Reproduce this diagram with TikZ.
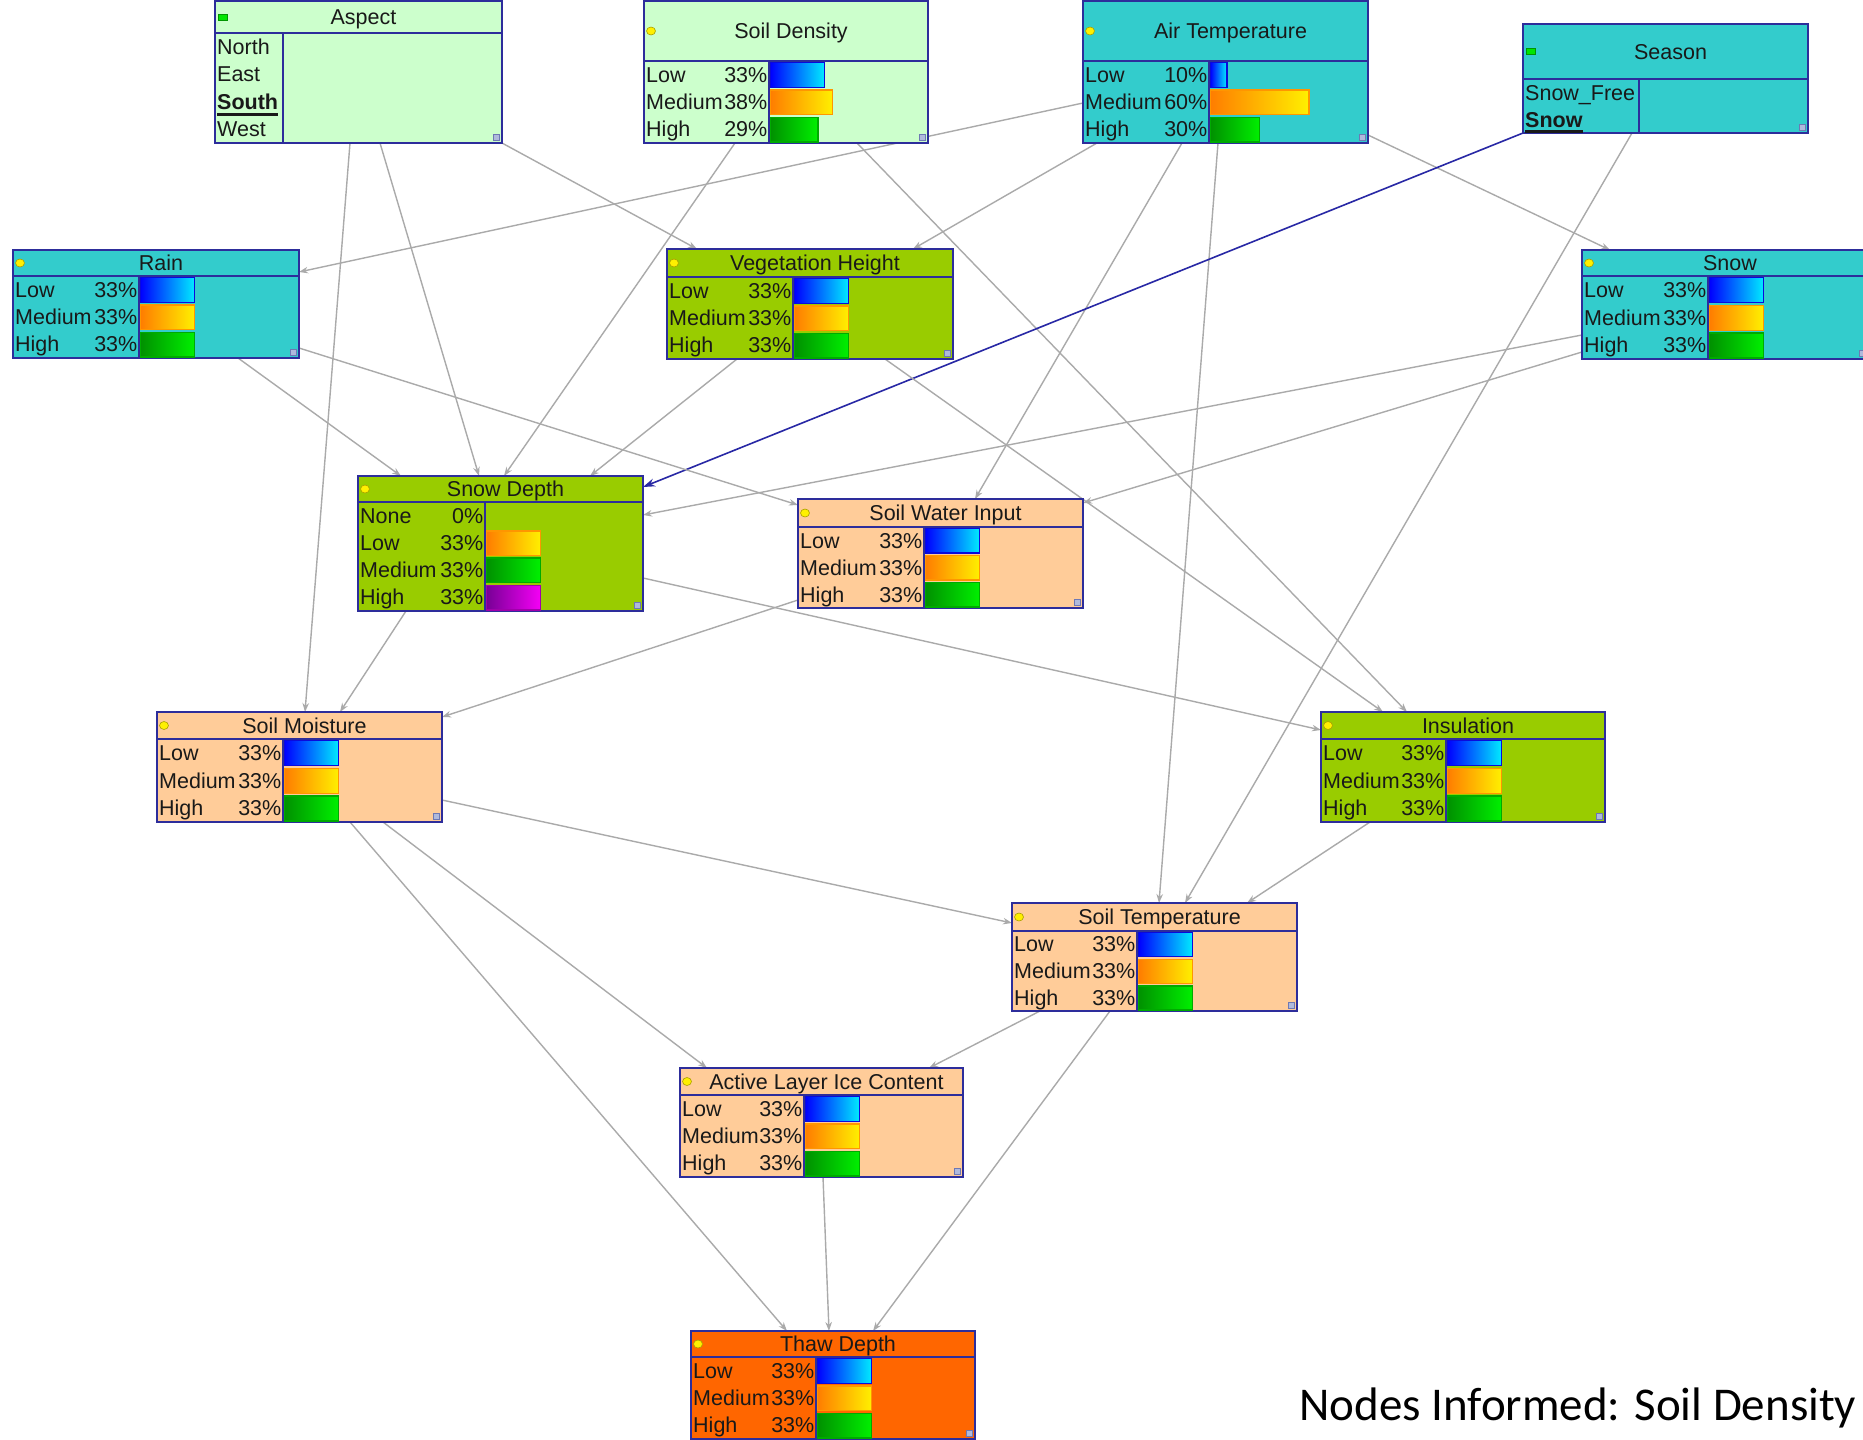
\documentclass[tikz,border=0pt]{standalone}
\usepackage{fontspec}
\setmainfont{Liberation Sans}
\newfontfamily\calibfont{Carlito}
\usetikzlibrary{calc,arrows.meta}
\pgfdeclarelayer{back}
\pgfdeclarelayer{links}
\pgfsetlayers{back,links,main}

\definecolor{cLG}{RGB}{204,255,204}
\definecolor{cTeal}{RGB}{51,204,204}
\definecolor{cOlive}{RGB}{153,204,0}
\definecolor{cPeach}{RGB}{255,204,153}
\definecolor{cOrange}{RGB}{255,102,0}
\definecolor{cBorder}{RGB}{45,45,155}
\definecolor{cLink}{RGB}{170,170,170}
\definecolor{cBlueLink}{RGB}{40,40,165}
\definecolor{cText}{RGB}{25,25,25}
\definecolor{gLowA}{RGB}{0,0,255}
\definecolor{gLowB}{RGB}{0,235,255}
\definecolor{gLowD}{RGB}{10,10,220}
\definecolor{gMedA}{RGB}{255,125,0}
\definecolor{gMedB}{RGB}{255,240,0}
\definecolor{gMedD}{RGB}{255,150,0}
\definecolor{gHiA}{RGB}{0,145,0}
\definecolor{gHiB}{RGB}{0,240,0}
\definecolor{gHiD}{RGB}{0,170,0}
\definecolor{gPurA}{RGB}{120,0,150}
\definecolor{gPurB}{RGB}{245,0,245}
\definecolor{gPurD}{RGB}{160,0,170}
\definecolor{cHandle}{RGB}{175,185,220}
\definecolor{cHandleD}{RGB}{110,120,180}
\definecolor{cMarkY}{RGB}{255,240,0}
\definecolor{cMarkYD}{RGB}{170,160,0}
\definecolor{cMarkG}{RGB}{0,230,0}
\definecolor{cMarkGD}{RGB}{0,150,0}

\tikzset{
  bnrect/.style={rectangle, draw=cBorder, line width=2pt, inner sep=0pt, outer sep=0pt},
  bnline/.style={draw=cBorder, line width=1.6pt},
  titletext/.style={inner sep=0pt, text=cText, font=\fontsize{21.5}{25}\selectfont},
  statetext/.style={inner sep=0pt, text=cText, font=\fontsize{21.5}{25}\selectfont},
  bLow/.style={left color=gLowA, right color=gLowB, draw=gLowD, line width=1.3pt},
  bMed/.style={left color=gMedA, right color=gMedB, draw=gMedD, line width=1.3pt},
  bHigh/.style={left color=gHiA, right color=gHiB, draw=gHiD, line width=1.3pt},
  bPur/.style={left color=gPurA, right color=gPurB, draw=gPurD, line width=1.3pt},
  bnhandle/.style={fill=cHandle, draw=cHandleD, line width=0.6pt},
  markY/.style={fill=cMarkY, draw=cMarkYD, line width=0.6pt},
  markG/.style={fill=cMarkG, draw=cMarkGD, line width=0.6pt},
  bnlink/.style={draw=cLink, line width=1.4pt, -{Stealth[length=9pt,width=6.5pt]}},
  bnblue/.style={draw=cBlueLink, line width=1.6pt, -{Stealth[length=12pt,width=8pt]}},
}

\newcommand\bnget[1]{%
  \edef\bgX{\csname bnX#1\endcsname}%
  \edef\bgY{\csname bnY#1\endcsname}%
  \edef\bgT{\csname bnT#1\endcsname}%
  \edef\bgD{\csname bnD#1\endcsname}%
  \edef\bgB{\csname bnB#1\endcsname}%
  \edef\bgR{\csname bnR#1\endcsname}}

% name, x1, y1, x2, y2, title bottom, divider, fill, title
\newcommand\bnbox[9]{%
  \expandafter\gdef\csname bnX#1\endcsname{#2}%
  \expandafter\gdef\csname bnY#1\endcsname{#3}%
  \expandafter\gdef\csname bnR#1\endcsname{#4}%
  \expandafter\gdef\csname bnB#1\endcsname{#5}%
  \expandafter\gdef\csname bnT#1\endcsname{#6}%
  \expandafter\gdef\csname bnD#1\endcsname{#7}%
  \node[bnrect, fill=#8, minimum width={#4-#2}, minimum height={#5-#3}, anchor=north west] (#1) at (#2,-#3) {};
  \draw[bnline] (#2,-#6) -- (#4,-#6);
  \draw[bnline] (#7,-#6) -- (#7,-#5);
  \node[titletext, anchor=base] (#1-title) at ({(#2+#4)/2+5},{-(#3+#6)/2-7.5}) {#9};
  \draw[bnhandle] ({#4-9},{-#5+3}) rectangle ({#4-3},{-#5+9});
}

\newcommand\ymark[1]{\bnget{#1}%
  \draw[markY] ({\bgX+7},{-(\bgY+\bgT)/2}) ellipse [x radius=4.5pt, y radius=4pt];}
\newcommand\gmark[1]{\bnget{#1}%
  \draw[markG] ({\bgX+3},{-(\bgY+\bgT)/2-3}) rectangle ({\bgX+12},{-(\bgY+\bgT)/2+3});}

\newcommand\bnrows[3]{%
  \bnget{#1}%
  \pgfmathsetmacro\bnrh{(\bgB-\bgT)/#2}%
  \foreach \lab/\pct/\sty [count=\i] in {#3}{%
    \pgfmathsetmacro\yc{\bgT+(\i-0.5)*\bnrh}%
    \pgfmathsetmacro\yt{\bgT+(\i-1)*\bnrh+1.6}%
    \pgfmathsetmacro\yb{\bgT+\i*\bnrh-1}%
    \pgfmathsetmacro\bl{1.64*\pct}%
    \node[statetext, anchor=base west] (#1-s\i) at ({\bgX+2},{-\yc-7.5}) {\lab};
    \node[statetext, anchor=base east] (#1-p\i) at ({\bgD-1.5},{-\yc-7.5}) {\pct\%};
    \ifnum\pct>0
      \edef\bnbar{\noexpand\draw[\sty]}%
      \bnbar ({\bgD+1.5},-\yt) rectangle ({\bgD+1.5+\bl},-\yb);
    \fi
  }%
}

\newcommand\bnlabels[3]{%
  \bnget{#1}%
  \pgfmathsetmacro\bnrh{(\bgB-\bgT)/#2}%
  \foreach \lab [count=\i] in {#3}{%
    \pgfmathsetmacro\yc{\bgT+(\i-0.5)*\bnrh}%
    \node[statetext, anchor=base west] (#1-s\i) at ({\bgX+2},{-\yc-7.5}) {\lab};
  }%
}

\newcommand\bnul[1]{\setbox0\hbox{\bfseries #1}\rlap{\rule[-6.3pt]{\wd0}{3pt}}\box0}

\begin{document}
\begin{tikzpicture}[x=1pt, y=1pt]
\useasboundingbox (0,0) rectangle (1863,-1440);
\begin{pgfonlayer}{back}
  \fill[white] (0,0) rectangle (1863,-1440);
\end{pgfonlayer}

% ---- nodes ----
\bnbox{aspect}{215}{1}{502}{143}{33}{283}{cLG}{Aspect}
\gmark{aspect}
\bnlabels{aspect}{4}{North,East,\bnul{South},West}

\bnbox{soildens}{644}{1}{928}{143}{61}{769}{cLG}{Soil Density}
\ymark{soildens}
\bnrows{soildens}{3}{Low/33/bLow,Medium/38/bMed,High/29/bHigh}

\bnbox{airtemp}{1083}{1}{1368}{143}{61}{1209}{cTeal}{Air Temperature}
\ymark{airtemp}
\bnrows{airtemp}{3}{Low/10/bLow,Medium/60/bMed,High/30/bHigh}

\bnbox{season}{1523}{24}{1808}{133}{79}{1639}{cTeal}{Season}
\gmark{season}
\bnlabels{season}{2}{Snow\_Free,\bnul{Snow}}

\bnbox{rain}{13}{250}{299}{358}{276}{139}{cTeal}{Rain}
\ymark{rain}
\bnrows{rain}{3}{Low/33/bLow,Medium/33/bMed,High/33/bHigh}

\bnbox{veg}{667}{249}{953}{359}{277}{793}{cOlive}{Vegetation Height}
\ymark{veg}
\bnrows{veg}{3}{Low/33/bLow,Medium/33/bMed,High/33/bHigh}

\bnbox{snow}{1582}{250}{1868}{359}{276}{1708}{cTeal}{Snow}
\ymark{snow}
\bnrows{snow}{3}{Low/33/bLow,Medium/33/bMed,High/33/bHigh}

\bnbox{snowdepth}{358}{476}{643}{611}{502}{485}{cOlive}{Snow Depth}
\ymark{snowdepth}
\bnrows{snowdepth}{4}{None/0/bLow,Low/33/bMed,Medium/33/bHigh,High/33/bPur}

\bnbox{swi}{798}{499}{1083}{608}{527}{924}{cPeach}{Soil Water Input}
\ymark{swi}
\bnrows{swi}{3}{Low/33/bLow,Medium/33/bMed,High/33/bHigh}

\bnbox{soilmoist}{157}{712}{442}{822}{739}{283}{cPeach}{Soil Moisture}
\ymark{soilmoist}
\bnrows{soilmoist}{3}{Low/33/bLow,Medium/33/bMed,High/33/bHigh}

\bnbox{insul}{1321}{712}{1605}{822}{739}{1446}{cOlive}{Insulation}
\ymark{insul}
\bnrows{insul}{3}{Low/33/bLow,Medium/33/bMed,High/33/bHigh}

\bnbox{soiltemp}{1012}{903}{1297}{1011}{931}{1137}{cPeach}{Soil Temperature}
\ymark{soiltemp}
\bnrows{soiltemp}{3}{Low/33/bLow,Medium/33/bMed,High/33/bHigh}

\bnbox{alic}{680}{1068}{963}{1177}{1095}{804}{cPeach}{Active Layer Ice Content}
\ymark{alic}
\bnrows{alic}{3}{Low/33/bLow,Medium/33/bMed,High/33/bHigh}

\bnbox{thaw}{691}{1331}{975}{1439}{1357}{816}{cOrange}{Thaw Depth}
\ymark{thaw}
\bnrows{thaw}{3}{Low/33/bLow,Medium/33/bMed,High/33/bHigh}

\node[inner sep=0pt, anchor=base west, text=black, font=\calibfont\fontsize{47}{55}\selectfont] (info) at (1299,-1420) {Nodes Informed: Soil Density};

% ---- links ----
\begin{pgfonlayer}{links}
\draw[bnlink] ($(aspect.south west)+(135,0)$) -- ($(soilmoist.north west)+(148,0)$);
\draw[bnlink] ($(aspect.south west)+(165,0)$) -- ($(snowdepth.north west)+(121,0)$);
\draw[bnlink] (aspect.south east) -- ($(veg.north west)+(30,0)$);
\draw[bnlink] ($(soildens.south west)+(91,0)$) -- ($(snowdepth.north west)+(146,0)$);
\draw[bnlink] ($(soildens.south west)+(213,0)$) -- ($(insul.north west)+(86,0)$);
\draw[bnlink] ($(airtemp.north west)+(0,-102)$) -- ($(rain.north east)+(0,-22)$);
\draw[bnlink] ($(airtemp.south west)+(14,0)$) -- ($(veg.north west)+(246,0)$);
\draw[bnlink] ($(airtemp.south west)+(99,0)$) -- ($(swi.north west)+(177,0)$);
\draw[bnlink] ($(airtemp.south west)+(135,0)$) -- ($(soiltemp.north west)+(147,0)$);
\draw[bnlink] ($(airtemp.south east)+(0,8)$) -- ($(snow.north west)+(28,0)$);
\draw[bnblue] (season.south west) -- ($(snowdepth.north east)+(0,-11)$);
\draw[bnlink] ($(season.south west)+(109,0)$) -- ($(soiltemp.north west)+(173,0)$);
\draw[bnlink] ($(rain.south west)+(225,0)$) -- ($(snowdepth.north west)+(43,0)$);
\draw[bnlink] ($(rain.south east)+(0,10)$) -- ($(swi.north west)+(0,-6)$);
\draw[bnlink] ($(veg.south west)+(70,0)$) -- ($(snowdepth.north west)+(232,0)$);
\draw[bnlink] ($(veg.south west)+(218,0)$) -- ($(insul.north west)+(62,0)$);
\draw[bnlink] ($(snow.south west)+(0,24)$) -- ($(snowdepth.north east)+(0,-39)$);
\draw[bnlink] ($(snow.south west)+(0,7)$) -- ($(swi.north east)+(0,-4)$);
\draw[bnlink] ($(snowdepth.south west)+(48,0)$) -- ($(soilmoist.north west)+(183,0)$);
\draw[bnlink] ($(snowdepth.north east)+(0,-102)$) -- ($(insul.north west)+(0,-18)$);
\draw[bnlink] ($(swi.south west)+(0,8)$) -- ($(soilmoist.north east)+(0,-5)$);
\draw[bnlink] ($(soilmoist.south east)+(0,22)$) -- ($(soiltemp.north west)+(0,-20)$);
\draw[bnlink] ($(soilmoist.south west)+(226,0)$) -- ($(alic.north west)+(27,0)$);
\draw[bnlink] ($(soilmoist.south west)+(193,0)$) -- ($(thaw.north west)+(96,0)$);
\draw[bnlink] ($(insul.south west)+(49,0)$) -- ($(soiltemp.north west)+(235,0)$);
\draw[bnlink] ($(soiltemp.south west)+(28,0)$) -- ($(alic.north west)+(249,0)$);
\draw[bnlink] ($(soiltemp.south west)+(98,0)$) -- ($(thaw.north west)+(182,0)$);
\draw[bnlink] ($(alic.south west)+(143,0)$) -- ($(thaw.north west)+(138,0)$);
\end{pgfonlayer}
\end{tikzpicture}
\end{document}
